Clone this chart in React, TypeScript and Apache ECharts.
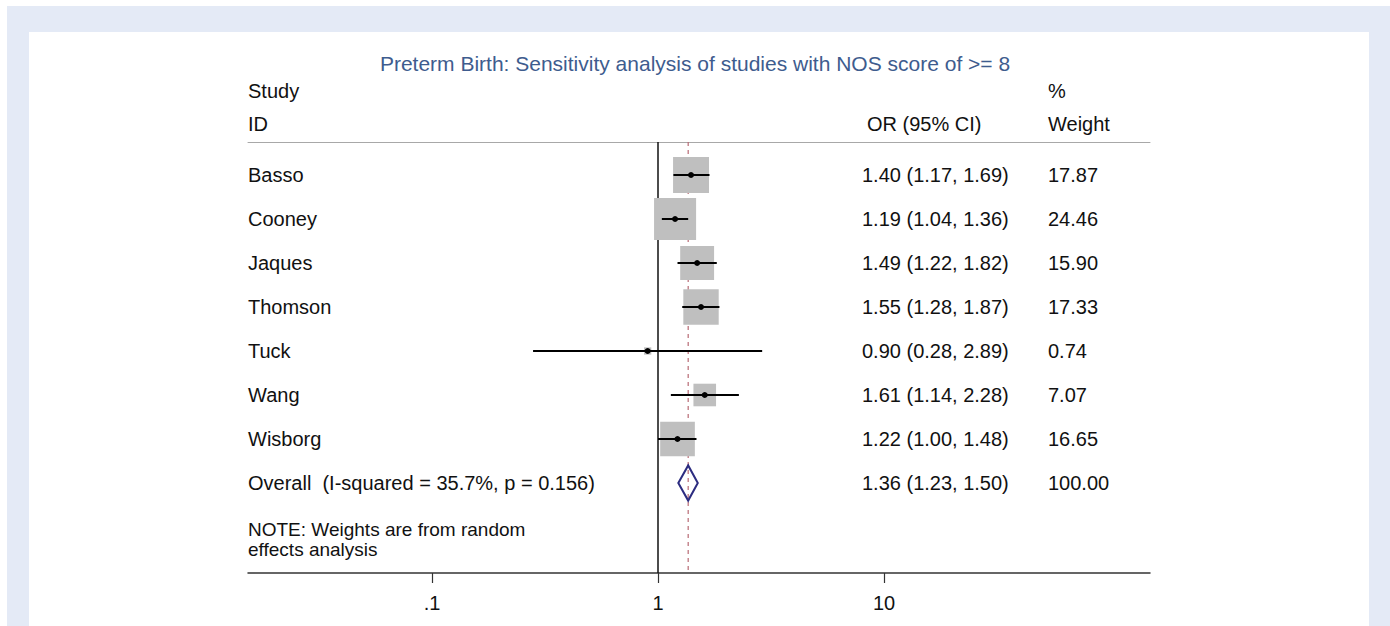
import React, { useEffect, useRef } from "react";
import * as echarts from "echarts";

// study rows
const studies = ["Basso", "Cooney", "Jaques", "Thomson", "Tuck", "Wang", "Wisborg"];
const oddsRatios = [1.4, 1.19, 1.49, 1.55, 0.9, 1.61, 1.22];
const ciLower = [1.17, 1.04, 1.22, 1.28, 0.28, 1.14, 1.0];
const ciUpper = [1.69, 1.36, 1.82, 1.87, 2.89, 2.28, 1.48];
const weights = [17.87, 24.46, 15.9, 17.33, 0.74, 7.07, 16.65];

// pooled estimate
const overallLabel = "Overall  (I-squared = 35.7%, p = 0.156)";
const overallOR = 1.36;
const overallLower = 1.23;
const overallUpper = 1.5;
const overallWeight = 100.0;

const noteLines = ["NOTE: Weights are from random", "effects analysis"];

// x axis
const xTicks = [0.1, 1, 10];
const xTickLabels = [".1", "1", "10"];

const FONT = "'Liberation Sans', Arial, Helvetica, sans-serif";
const FS = 20;
const X_MIN = Math.pow(10, (248 - 658) / 226);
const X_MAX = Math.pow(10, (1150 - 658) / 226);
const Y_MIN = -0.75;
const Y_MAX = 431 / 44 - 0.75;

const fmt = (v: number) => v.toFixed(2);

const App = () => {
  const chartRef = useRef<HTMLDivElement>(null);

  useEffect(() => {
    const chart = echarts.init(chartRef.current, null, { renderer: "svg" });

    const studyData = studies.map((s, i) => [i, oddsRatios[i], ciLower[i], ciUpper[i], weights[i]]);
    const textRows = studies.map((s, i) => ({
      value: [i],
      name: s,
      or: `${fmt(oddsRatios[i])} (${fmt(ciLower[i])}, ${fmt(ciUpper[i])})`,
      w: fmt(weights[i]),
    }));
    textRows.push({
      value: [studies.length],
      name: overallLabel,
      or: `${fmt(overallOR)} (${fmt(overallLower)}, ${fmt(overallUpper)})`,
      w: fmt(overallWeight),
    });

    const headerText = (x: number, y: number, text: string) => ({
      type: "text",
      x,
      y,
      style: {
        text,
        fill: "#111",
        font: `${FS}px ${FONT}`,
        align: "left",
        verticalAlign: "middle",
      },
    });

    chart.setOption({
      animation: false,
      backgroundColor: "#ffffff",
      title: {
        text: "Preterm Birth: Sensitivity analysis of studies with NOS score of >= 8",
        left: "center",
        top: 53,
        padding: 0,
        textStyle: { color: "#3e5c8e", fontSize: 21, fontWeight: "normal", fontFamily: FONT },
      },
      graphic: [
        { type: "rect", z: -10, shape: { x: 7, y: 6, width: 1383, height: 620 }, style: { fill: "#e4eaf6" } },
        { type: "rect", z: -9, shape: { x: 29, y: 32, width: 1340, height: 594 }, style: { fill: "#ffffff" } },
        headerText(248, 91, "Study"),
        headerText(248, 124, "ID"),
        headerText(867, 124, "OR (95% CI)"),
        headerText(1048, 91, "%"),
        headerText(1048, 124, "Weight"),
      ],
      grid: { left: 248, right: 240, top: 142, bottom: 53 },
      xAxis: [
        {
          type: "log",
          min: X_MIN,
          max: X_MAX,
          position: "bottom",
          splitLine: { show: false },
          axisLine: { onZero: false, lineStyle: { color: "#333", width: 1.5 } },
          axisTick: { length: 10, customValues: xTicks, lineStyle: { color: "#333", width: 1.2 } },
          axisLabel: {
            customValues: xTicks,
            margin: 20,
            fontSize: FS,
            fontFamily: FONT,
            color: "#111",
            formatter: (v: number) => xTickLabels[xTicks.findIndex((t) => Math.abs(t - v) < 1e-9)] ?? "",
          },
          minorTick: { show: false },
        },
        {
          type: "log",
          min: X_MIN,
          max: X_MAX,
          position: "top",
          axisLine: { onZero: false, lineStyle: { color: "#a8a8a8", width: 1 } },
          axisTick: { show: false },
          axisLabel: { show: false },
          splitLine: { show: false },
        },
      ],
      yAxis: {
        type: "value",
        inverse: true,
        min: Y_MIN,
        max: Y_MAX,
        show: false,
      },
      series: [
        {
          // null line and pooled-estimate line
          type: "custom",
          z: 1,
          silent: true,
          data: [
            [1, 0],
            [overallOR, 1],
          ],
          renderItem: (params: any, api: any) => {
            const x = api.value(0);
            const dashed = api.value(1) === 1;
            const top = api.coord([x, Y_MIN]);
            const bottom = api.coord([x, Y_MAX]);
            return {
              type: "line",
              shape: { x1: top[0], y1: top[1], x2: bottom[0], y2: bottom[1] },
              style: dashed
                ? { stroke: "#b86a74", lineWidth: 1.2, lineDash: [4, 4] }
                : { stroke: "#111", lineWidth: 1.5 },
            };
          },
        },
        {
          // study boxes with confidence intervals
          type: "custom",
          z: 3,
          silent: true,
          data: studyData,
          renderItem: (params: any, api: any) => {
            const row = api.value(0);
            const c = api.coord([api.value(1), row]);
            const lo = api.coord([api.value(2), row]);
            const hi = api.coord([api.value(3), row]);
            const side = 8.5 * Math.sqrt(api.value(4));
            return {
              type: "group",
              children: [
                {
                  type: "rect",
                  shape: { x: c[0] - side / 2, y: c[1] - side / 2, width: side, height: side },
                  style: { fill: "#bfbfbf" },
                },
                {
                  type: "line",
                  shape: { x1: lo[0], y1: c[1], x2: hi[0], y2: c[1] },
                  style: { stroke: "#000", lineWidth: 2 },
                },
                { type: "circle", shape: { cx: c[0], cy: c[1], r: 3 }, style: { fill: "#000" } },
              ],
            };
          },
        },
        {
          // pooled diamond
          type: "custom",
          z: 3,
          silent: true,
          data: [[studies.length, overallOR, overallLower, overallUpper]],
          renderItem: (params: any, api: any) => {
            const row = api.value(0);
            const h = 0.4;
            const points = [
              api.coord([api.value(2), row]),
              api.coord([api.value(1), row - h]),
              api.coord([api.value(3), row]),
              api.coord([api.value(1), row + h]),
            ];
            return {
              type: "polygon",
              shape: { points },
              style: { fill: "none", stroke: "#2c2c80", lineWidth: 2 },
            };
          },
        },
        {
          // table text
          type: "custom",
          z: 4,
          silent: true,
          data: textRows,
          renderItem: (params: any, api: any) => {
            const item = textRows[params.dataIndex];
            const y = api.coord([1, api.value(0)])[1];
            const t = (x: number, text: string) => ({
              type: "text",
              x,
              y,
              style: { text, fill: "#111", font: `${FS}px ${FONT}`, align: "left", verticalAlign: "middle" },
            });
            return {
              type: "group",
              children: [t(248, item.name), t(862, item.or), t(1048, item.w)],
            };
          },
        },
        {
          // note
          type: "custom",
          z: 4,
          silent: true,
          data: [[studies.length + 1]],
          renderItem: (params: any, api: any) => {
            const y = api.coord([1, api.value(0)])[1];
            return {
              type: "group",
              children: noteLines.map((line, k) => ({
                type: "text",
                x: 248,
                y: y + 2 + k * 20,
                style: { text: line, fill: "#111", font: `19px ${FONT}`, align: "left", verticalAlign: "middle" },
              })),
            };
          },
        },
      ],
    });

    return () => {
      chart.dispose();
    };
  }, []);

  return (
    <div
      ref={chartRef}
      style={{ position: "absolute", left: 0, top: 0, width: "1390px", height: "626px" }}
    ></div>
  );
};

export default App;
